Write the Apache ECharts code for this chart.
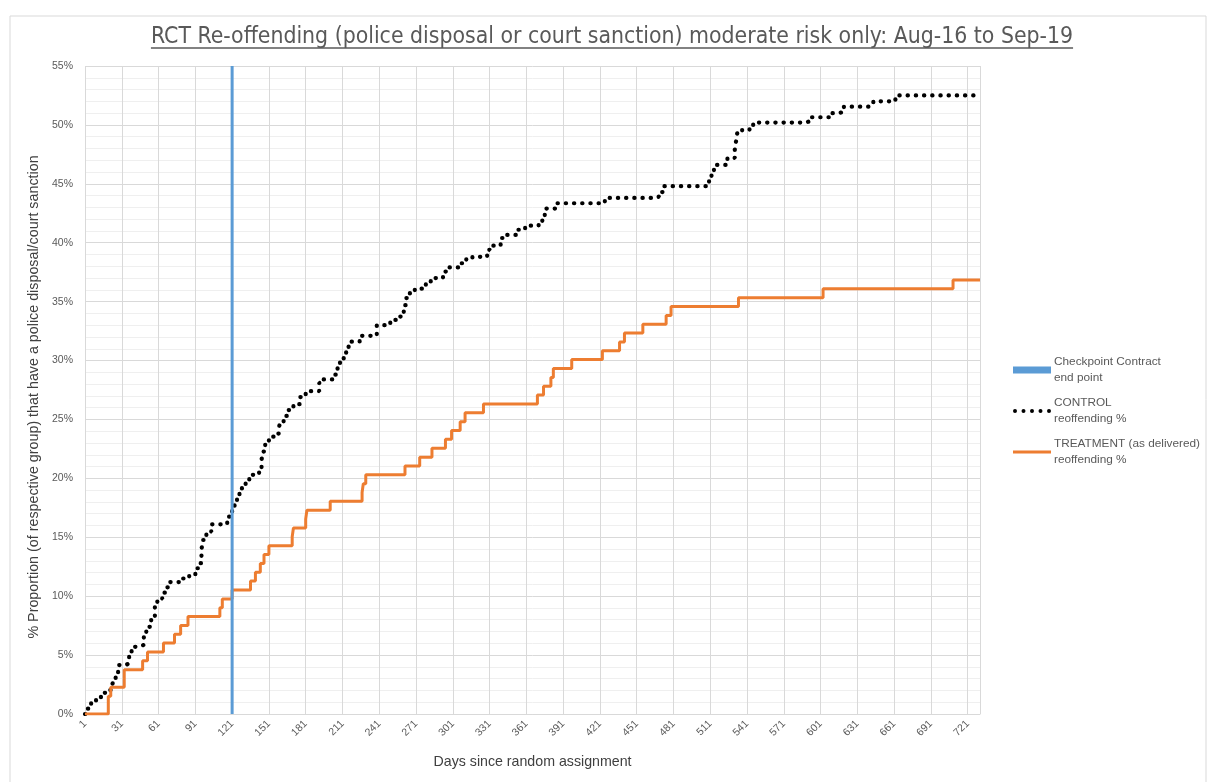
<!DOCTYPE html>
<html lang="en">
<head>
<meta charset="UTF-8">
<title>RCT Re-offending</title>
<script src="https://cdn.jsdelivr.net/npm/echarts@6/dist/echarts.min.js"></script>
<style>
html, body { margin: 0; padding: 0; background: #fff; }
#main { width: 1216px; height: 782px; }
</style>
</head>
<body>
<div id="main"></div>
<script>
var titleText = 'RCT Re-offending (police disposal or court sanction) moderate risk only: Aug-16 to Sep-19';
var xName = 'Days since random assignment';
var yName = '% Proportion (of respective group) that have a police disposal/court sanction';
var seriesNames = ['Checkpoint Contract\nend point', 'CONTROL\nreoffending %', 'TREATMENT (as delivered)\nreoffending %'];

// day of the checkpoint contract end point
var checkpointDay = 121;

// [day, % reoffended] - value changes at that day
var controlSteps = [
    [1, 0], [3, 0.45], [6, 0.9], [10, 1.35], [14, 1.8], [18, 2.03], [23, 2.3], [24, 2.9],
    [26, 3.45], [28, 4.15], [34, 4.3], [37, 5.0], [39, 5.7], [44, 5.86], [49, 6.7], [51, 7.4],
    [55, 8.1], [58, 9.1], [60, 9.8], [64, 10.3], [67, 10.75], [70, 11.2], [80, 11.5], [86, 11.8],
    [91, 12.37], [94, 12.8], [96, 13.9], [97, 14.77], [100, 15.48], [104, 16.1], [117, 16.75],
    [121, 17.3], [123, 17.8], [125, 18.45], [127, 18.9], [129, 19.44], [132, 19.9], [135, 20.3],
    [143, 20.85], [145, 21.56], [146, 22.27], [148, 22.98], [151, 23.54], [155, 23.8], [159, 24.1],
    [160, 24.8], [163, 25.3], [166, 25.8], [171, 26.3], [176, 26.9], [181, 27.4], [192, 28.1],
    [194, 28.4], [204, 28.8], [207, 29.4], [209, 29.9], [212, 30.4], [214, 30.9], [216, 31.6],
    [225, 32.1], [239, 33.0], [250, 33.45], [255, 33.73], [259, 34.0], [261, 34.7], [263, 35.3],
    [266, 35.8], [270, 36.1], [279, 36.56], [283, 37.0], [293, 37.55], [296, 37.9], [308, 38.26],
    [312, 38.6], [317, 38.8], [329, 39.4], [331, 39.75], [340, 40.4], [345, 40.66], [354, 41.1],
    [360, 41.45], [371, 41.65], [374, 42.2], [376, 42.9], [386, 43.35], [425, 43.8], [466, 43.9],
    [469, 44.3], [473, 44.8], [510, 45.3], [512, 46.0], [514, 46.6], [525, 47.2], [531, 47.9],
    [532, 48.6], [533, 49.3], [537, 49.6], [543, 49.8], [546, 50.2], [588, 50.3], [592, 50.65],
    [608, 51.0], [615, 51.1], [620, 51.55], [640, 51.7], [644, 52.0], [662, 52.5], [731, 52.5]
];

var treatmentSteps = [
    [1, 0], [20, 1.5], [22, 2.26], [33, 3.76], [48, 4.51], [52, 5.26], [65, 6.02], [74, 6.77],
    [79, 7.52], [85, 8.27], [111, 9.02], [113, 9.77], [121, 10.53], [136, 11.28], [140, 12.03],
    [144, 12.78], [147, 13.53], [151, 14.29], [170, 15.04], [171, 15.79], [181, 16.54], [182, 17.29],
    [201, 18.05], [227, 18.8], [228, 19.55], [230, 20.3], [262, 21.05], [274, 21.8], [284, 22.56],
    [295, 23.31], [300, 24.06], [307, 24.81], [311, 25.56], [326, 26.32], [370, 27.07], [375, 27.82],
    [381, 28.57], [383, 29.32], [398, 30.08], [423, 30.83], [437, 31.58], [441, 32.33], [456, 33.08],
    [475, 33.83], [479, 34.59], [534, 35.34], [603, 36.09], [709, 36.84], [731, 36.84]
];

var dayMin = 1, dayMax = 731, dayStep = 30, lastDayLabel = 721;
var pctMin = 0, pctMax = 55, pctStep = 5;

var titleFont = '"Liberation Sans Narrow", "DejaVu Sans Condensed", sans-serif';
var bodyFont = '"Liberation Sans", Arial, sans-serif';
var titleSize = 22.8;

// width of title text, for the underline
var ctx = document.createElement('canvas').getContext('2d');
ctx.font = titleSize + 'px ' + titleFont;
var titleW = ctx.measureText(titleText).width;
var titleX = (1216 - titleW) / 2 + 4;

// legend icons: a row of dots and a plain line
var dotIcon = 'path://M0,2a2,2 0 1,0 4,0a2,2 0 1,0 -4,0Z' +
    'M8.5,2a2,2 0 1,0 4,0a2,2 0 1,0 -4,0Z' +
    'M17,2a2,2 0 1,0 4,0a2,2 0 1,0 -4,0Z' +
    'M25.5,2a2,2 0 1,0 4,0a2,2 0 1,0 -4,0Z' +
    'M34,2a2,2 0 1,0 4,0a2,2 0 1,0 -4,0Z';
var lineIcon = 'path://M0,0L38,0L38,3L0,3Z';

var myChart = echarts.init(document.getElementById('main'));

var option = {
    animation: false,
    backgroundColor: '#fff',
    title: {
        text: titleText,
        left: titleX,
        top: 26,
        padding: 0,
        textStyle: { fontFamily: titleFont, fontSize: titleSize, fontWeight: 'normal', color: '#595959' }
    },
    graphic: [
        {
            type: 'rect', silent: true,
            shape: { x: 10, y: 16, width: 1196, height: 780 },
            style: { fill: 'none', stroke: '#d9d9d9', lineWidth: 1 }
        },
        {
            type: 'line', silent: true,
            shape: { x1: titleX, y1: 48, x2: titleX + titleW, y2: 48 },
            style: { stroke: '#595959', lineWidth: 1.5 }
        }
    ],
    legend: {
        orient: 'vertical',
        left: 1013,
        top: 346,
        padding: 0,
        itemWidth: 38,
        itemHeight: 7,
        itemGap: -7,
        textStyle: { fontFamily: bodyFont, fontSize: 11.8, color: '#595959', lineHeight: 16, padding: [16, 0, 0, -2] },
        data: [
            { name: seriesNames[0], icon: 'rect' },
            { name: seriesNames[1], icon: dotIcon },
            { name: seriesNames[2], icon: lineIcon }
        ]
    },
    grid: { left: 85, right: 236, top: 66, bottom: 68 },
    xAxis: {
        type: 'value',
        min: dayMin,
        max: dayMax,
        interval: dayStep,
        name: xName,
        nameLocation: 'middle',
        nameGap: 41,
        nameTextStyle: { fontFamily: bodyFont, fontSize: 14.2, color: '#404040' },
        axisLine: { show: true, lineStyle: { color: '#d9d9d9', width: 1 } },
        axisTick: { show: false },
        axisLabel: {
            rotate: 45, fontFamily: bodyFont, fontSize: 10.5, color: '#595959', margin: 8,
            formatter: function (v) { return v > lastDayLabel ? '' : String(v); }
        },
        splitLine: { show: true, lineStyle: { color: '#d9d9d9', width: 1 } }
    },
    yAxis: {
        type: 'value',
        min: pctMin,
        max: pctMax,
        interval: pctStep,
        name: yName,
        nameLocation: 'middle',
        nameGap: 38,
        nameTextStyle: { fontFamily: bodyFont, fontSize: 14.3, color: '#404040', padding: [0, 14, 0, 0] },
        axisLine: { show: false },
        axisTick: { show: false },
        axisLabel: { formatter: '{value}%', fontFamily: bodyFont, fontSize: 10.5, color: '#595959', margin: 12 },
        splitLine: { lineStyle: { color: '#d9d9d9', width: 1 } },
        minorTick: { show: false, splitNumber: 5 },
        minorSplitLine: { show: true, lineStyle: { color: '#efefef', width: 1 } }
    },
    series: [
        {
            name: seriesNames[0],
            type: 'line',
            symbol: 'none',
            data: [[checkpointDay, pctMin], [checkpointDay, pctMax]],
            lineStyle: { color: '#5B9BD5', width: 3 },
            itemStyle: { color: '#5B9BD5' },
            z: 4
        },
        {
            name: seriesNames[1],
            type: 'line',
            step: 'end',
            symbol: 'none',
            data: controlSteps,
            lineStyle: { color: '#000', width: 4.2, type: [0.3, 7.9], cap: 'round' },
            itemStyle: { color: '#000' },
            z: 3
        },
        {
            name: seriesNames[2],
            type: 'line',
            step: 'end',
            symbol: 'none',
            data: treatmentSteps,
            lineStyle: { color: '#ED7D31', width: 3 },
            itemStyle: { color: '#ED7D31' },
            z: 3
        }
    ]
};

myChart.setOption(option);
</script>
</body>
</html>
